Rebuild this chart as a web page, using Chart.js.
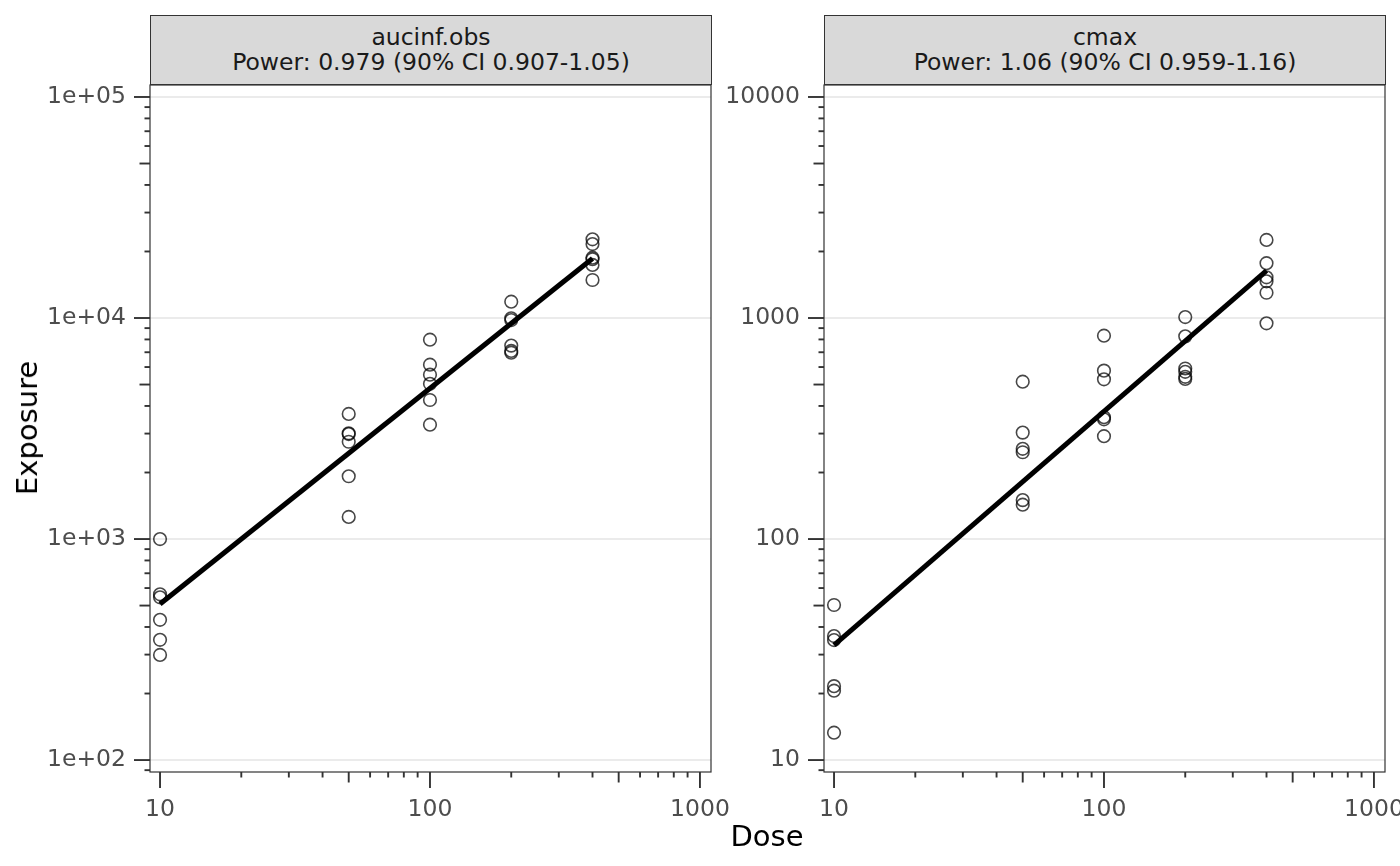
<!DOCTYPE html>
<html><head><meta charset="utf-8">
<script src="https://cdn.jsdelivr.net/npm/chart.js@4.4.1/dist/chart.umd.min.js"></script>
<style>
html,body{margin:0;padding:0;background:#fff;width:1400px;height:866px;overflow:hidden;position:relative;font-family:"DejaVu Sans",sans-serif;}
canvas{position:absolute;left:0;top:0;}
.strip{position:absolute;top:15px;height:70px;background:#D9D9D9;border:1px solid #333;box-sizing:border-box;color:#1A1A1A;font-size:23.5px;line-height:25.5px;text-align:center;display:flex;flex-direction:column;justify-content:center;white-space:nowrap;}
.title{position:absolute;color:#000;font-size:29px;white-space:nowrap;}
</style></head><body>
<canvas id="c1" width="1440" height="866" style="width:1440px;height:866px"></canvas>
<canvas id="c2" width="1440" height="866" style="width:1440px;height:866px"></canvas>
<div class="strip" style="left:150px;width:562px;"><div>aucinf.obs</div><div>Power: 0.979 (90% CI 0.907-1.05)</div></div>
<div class="strip" style="left:824px;width:562px;"><div>cmax</div><div>Power: 1.06 (90% CI 0.959-1.16)</div></div>
<div class="title" style="left:27px;top:428px;transform:translate(-50%,-50%) rotate(-90deg);">Exposure</div>
<div class="title" style="left:767px;top:836px;transform:translate(-50%,-50%);">Dose</div>
<script>
// ---- data ----
const dose = [10,10,10,10,10,10, 50,50,50,50,50,50, 100,100,100,100,100,100, 200,200,200,200,200,200, 400,400,400,400,400,400];
const aucinfObs = [1000,562,545,431,350,299, 3680,3010,2985,2755,1923,1259, 7980,6150,5540,5040,4256,3290, 11850,9970,9790,7500,7100,6970, 22700,21600,18750,18450,17380,14860];
const cmax = [50.3,36.4,34.9,21.6,20.6,13.3, 515,303,256,247,150,143, 832,578,528,356,348,292, 1010,826,591,571,542,530, 2255,1770,1528,1466,1301,946];
const fitDose = [10, 400];
const aucinfFit = [508, 18600];
const cmaxFit = [33.1, 1637];
const xTickValues = [10, 100, 1000];
const xTickLabels = ['10', '100', '1000'];
const aucTickValues = [100, 1000, 10000, 100000];
const aucTickLabels = ['1e+02', '1e+03', '1e+04', '1e+05'];
const cmaxTickValues = [10, 100, 1000, 10000];
const cmaxTickLabels = ['10', '100', '1000', '10000'];
const xRange = [9.18, 1099];
const aucRange = [88.3, 113300];
const cmaxRange = [8.83, 11330];

const logTicks = {
  id: 'logTicks',
  afterDraw(chart) {
    const ctx = chart.ctx, a = chart.chartArea;
    ctx.save();
    ctx.strokeStyle = '#333';
    ctx.lineWidth = 1.9;
    ['x', 'y'].forEach(id => {
      const s = chart.scales[id];
      for (let k = 0; k < 7; k++) for (let m = 1; m < 10; m++) {
        const v = m * Math.pow(10, k);
        if (v < s.min || v > s.max) continue;
        const p = s.getPixelForValue(v);
        const len = m === 1 ? 16 : (m === 5 ? 10.5 : 5.5);
        ctx.beginPath();
        if (id === 'x') { ctx.moveTo(p, a.bottom); ctx.lineTo(p, a.bottom + len); }
        else { ctx.moveTo(a.left, p); ctx.lineTo(a.left - len, p); }
        ctx.stroke();
      }
    });
    ctx.lineWidth = 1.2;
    ctx.strokeRect(a.left, a.top, a.right - a.left, a.bottom - a.top);
    ctx.restore();
  }
};

function makeChart(id, yVals, fitVals, yRange, yTickValues, yTickLabels, padLeft, padRight) {
  const pts = dose.map((d, i) => ({x: d, y: yVals[i]}));
  const fit = fitDose.map((d, i) => ({x: d, y: fitVals[i]}));
  return new Chart(document.getElementById(id), {
    type: 'scatter',
    data: {datasets: [
      {type: 'line', data: fit, borderColor: '#000', borderWidth: 5, pointRadius: 0, fill: false, order: 0, borderCapStyle: 'butt'},
      {data: pts, pointRadius: 6.3, pointHoverRadius: 6.3, borderWidth: 1.6, borderColor: 'rgba(0,0,0,0.72)', backgroundColor: 'rgba(0,0,0,0)', order: 1}
    ]},
    options: {
      responsive: false, animation: false, devicePixelRatio: 1,
      layout: {padding: {left: padLeft, right: padRight, top: 85, bottom: 0}},
      plugins: {legend: {display: false}, tooltip: {enabled: false}},
      events: [],
      scales: {
        x: {
          type: 'logarithmic', min: xRange[0], max: xRange[1],
          afterBuildTicks: s => { s.ticks = xTickValues.map(v => ({value: v})); },
          afterFit: s => { s.height = 94; },
          grid: {display: false, drawTicks: false},
          border: {display: false},
          ticks: {autoSkip: false, maxRotation: 0, padding: 24, color: '#4D4D4D', font: {family: 'DejaVu Sans', size: 23.5},
            callback: (v, i) => xTickLabels[i]}
        },
        y: {
          type: 'logarithmic', min: yRange[0], max: yRange[1],
          afterBuildTicks: s => { s.ticks = yTickValues.map(v => ({value: v})); },
          afterFit: s => { s.width = 150; },
          grid: {display: true, drawTicks: false, color: '#EBEBEB', lineWidth: 2},
          border: {display: false},
          ticks: {autoSkip: false, padding: 24, color: '#4D4D4D', font: {family: 'DejaVu Sans', size: 23.5},
            callback: (v, i) => yTickLabels[i]}
        }
      }
    },
    plugins: [logTicks]
  });
}
makeChart('c1', aucinfObs, aucinfFit, aucRange, aucTickValues, aucTickLabels, 0, 1440 - 711);
makeChart('c2', cmax, cmaxFit, cmaxRange, cmaxTickValues, cmaxTickLabels, 824 - 150, 1440 - 1385);
</script>
</body></html>
